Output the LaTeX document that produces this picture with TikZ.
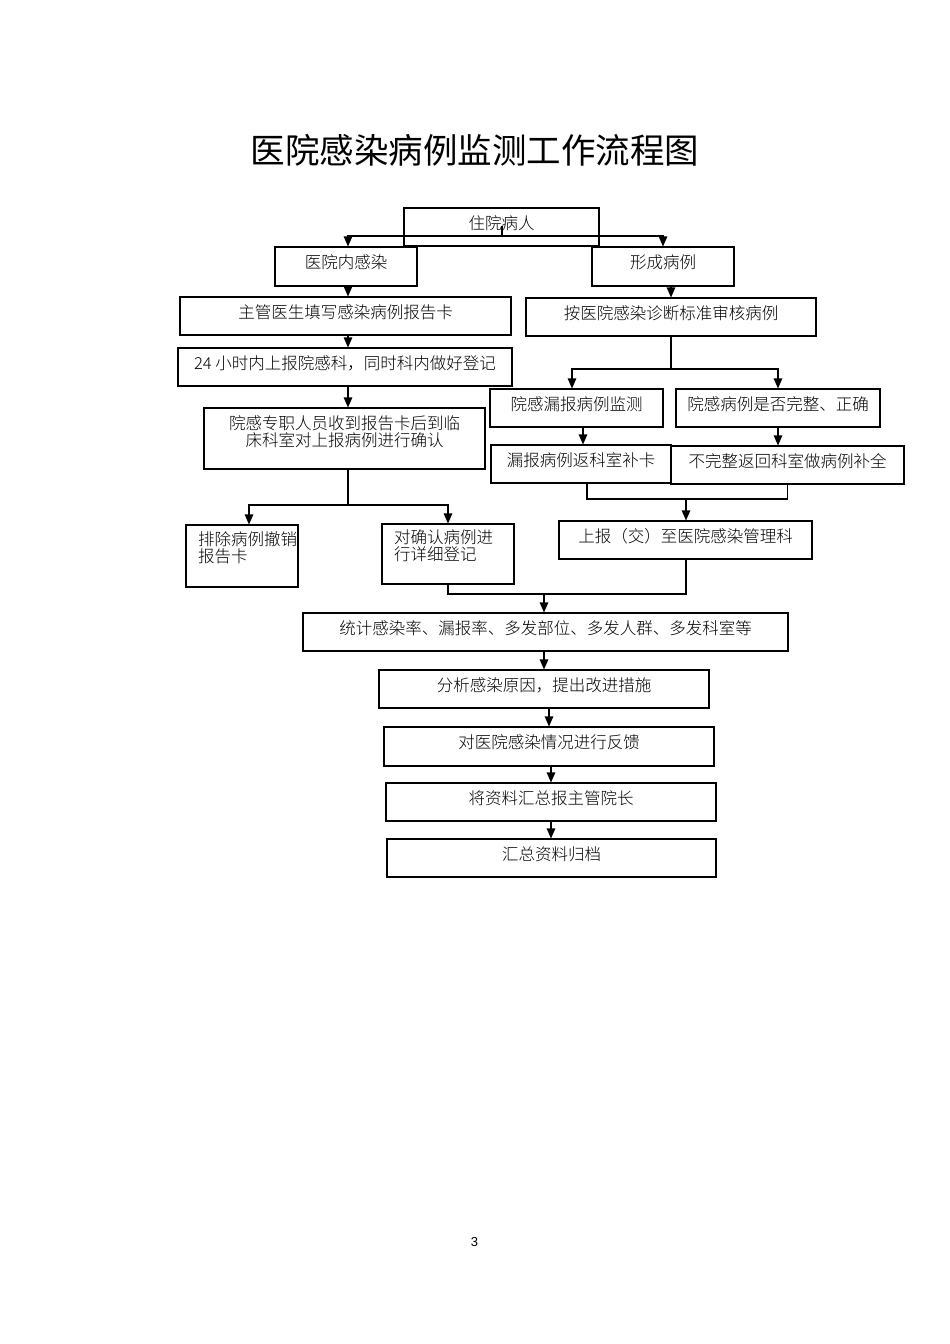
\documentclass[tikz,border=0pt]{standalone}
\usepackage{fontspec}
\setmainfont{Noto Sans CJK SC}
\newfontfamily\bodyfont{Noto Sans CJK SC}[UprightFont={* Light}]
\newfontfamily\numfont{Liberation Sans}
\usetikzlibrary{arrows.meta}
\hbadness=10000 \hfuzz=100pt
\begin{document}
\begin{tikzpicture}[x=1pt,y=-1pt,
  box/.style={draw, line width=1.1pt, inner sep=0pt, font=\bodyfont\fontsize{16.5}{17}\selectfont, align=center},
  sbox/.style={box, text height=12pt, text depth=8pt},
  arr/.style={line width=1.1pt, -{Triangle[width=8.5pt,length=10pt]}},
  ln/.style={line width=1.1pt}]
\useasboundingbox (0,0) rectangle (950,1344);
\fill[white] (0,0) rectangle (950,1344);

\node[font=\fontsize{34.5}{40}\selectfont] (title) at (475,150) {医院感染病例监测工作流程图};

\node[sbox, minimum width=195pt, minimum height=38pt, text height=13pt, text depth=9pt] (zy) at (501.5,227) {住院病人};
\node[sbox, minimum width=142pt, minimum height=39pt] (ny) at (346,266.5) {医院内感染};
\node[sbox, minimum width=142pt, minimum height=39pt] (xc) at (663,266.5) {形成病例};
\node[sbox, minimum width=331pt, minimum height=38pt] (zg) at (345.5,316) {主管医生填写感染病例报告卡};
\node[sbox, minimum width=290pt, minimum height=38pt] (ah) at (671,317) {按医院感染诊断标准审核病例};
\node[sbox, minimum width=334pt, minimum height=38pt] (h24) at (345,367) {24 小时内上报院感科，同时科内做好登记};
\node[box, minimum width=281pt, minimum height=61pt] (zz) at (344.5,438.5) {院感专职人员收到报告卡后到临\\床科室对上报病例进行确认\\[-2pt]\mbox{}};
\node[box, minimum width=112pt, minimum height=62pt, text width=88pt, align=left] (pc) at (242,556) {排除病例撤销\\报告卡\\\mbox{}};
\node[box, minimum width=132pt, minimum height=60pt, text width=108pt, align=left] (dq) at (448,554) {对确认病例进\\行详细登记\\\mbox{}};
\node[sbox, minimum width=173pt, minimum height=38pt] (lb) at (576.5,408) {院感漏报病例监测};
\node[sbox, minimum width=204pt, minimum height=38pt] (sf) at (778,408) {院感病例是否完整、正确};
\node[sbox, minimum width=180pt, minimum height=38pt] (fk) at (581,464) {漏报病例返科室补卡};
\node[sbox, minimum width=233pt, minimum height=38pt] (bw) at (787.5,465) {不完整返回科室做病例补全};
\node[sbox, minimum width=253pt, minimum height=38pt] (sb) at (685.5,540) {上报（交）至医院感染管理科};
\node[sbox, minimum width=485pt, minimum height=38pt] (tj) at (545.5,632) {统计感染率、漏报率、多发部位、多发人群、多发科室等};
\node[sbox, minimum width=330pt, minimum height=38pt] (fx) at (544,689) {分析感染原因，提出改进措施};
\node[sbox, minimum width=330pt, minimum height=39pt] (fy) at (549,746.5) {对医院感染情况进行反馈};
\node[sbox, minimum width=330pt, minimum height=38pt] (jz) at (551,802) {将资料汇总报主管院长};
\node[sbox, minimum width=329pt, minimum height=38pt] (hz) at (551.5,858) {汇总资料归档};

\node[font=\numfont\fontsize{13}{15}\selectfont] (pg) at (474.5,1242) {3};

% connectors
\coordinate (j1) at (502,236);
\draw[ln] ([yshift=1pt]zy.center -| j1) -- (j1);
\draw[arr] (j1) -| ([xshift=2pt]ny.north);
\draw[arr] (j1) -| (xc.north);
\draw[arr] ([xshift=2pt]ny.south) -- ([xshift=2pt]ny.south |- zg.north);
\draw[arr] ([xshift=2.5pt]zg.south) -- ([xshift=2.5pt]zg.south |- h24.north);
\coordinate (j5) at (348,505);
\draw[arr] (h24.south -| j5) -- (zz.north -| j5);
\draw[ln] (zz.south -| j5) -- (j5);
\draw[arr] (j5) -| ([xshift=7pt]pc.north);
\draw[arr] (j5) -| (dq.north);

\draw[arr] (xc.south -| ah.north) -- (ah.north);
\coordinate (j2) at (671,369);
\draw[ln] (ah.south) -- (j2);
\draw[arr] (j2) -| ([xshift=-4.5pt]lb.north);
\draw[arr] (j2) -| (sf.north);
\draw[arr] ([xshift=2pt]lb.south -| fk.north) -- ([xshift=2pt]fk.north);
\draw[arr] (sf.south) -- (sf.south |- bw.north);
\coordinate (j3) at (686,499);
\draw[ln] ([xshift=6pt]fk.south) |- (j3) -| (bw.south);
\draw[arr] (j3) -- (sb.north -| j3);

\coordinate (j4) at (544,594);
\draw[ln] (dq.south) |- (j4) -| (sb.south -| j3);
\draw[arr] (j4) -- (tj.north -| j4);
\draw[arr] (tj.south -| fx.north) -- (fx.north);
\draw[arr] (fx.south -| fy.north) -- (fy.north);
\draw[arr] (fy.south -| jz.north) -- (jz.north);
\draw[arr] (jz.south -| jz.north) -- (hz.north -| jz.north);
\end{tikzpicture}
\end{document}
